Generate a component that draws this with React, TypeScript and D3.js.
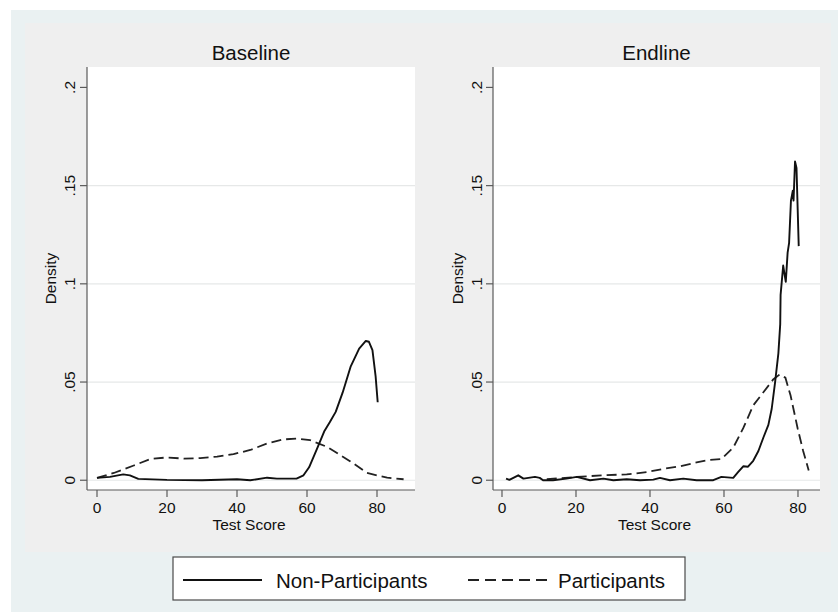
import React from "react";
import * as d3 from "d3";

type Pt = [number, number];

const panelTitles = ["Baseline", "Endline"];
const xTicks = [0, 20, 40, 60, 80];
const yTicks = [0, 0.05, 0.1, 0.15, 0.2];
const yTickLabels = ["0", ".05", ".1", ".15", ".2"];
const legendLabels = ["Non-Participants", "Participants"];

const baselineNonPart: Pt[] = [
  [0, 0.0012], [3.7, 0.0017], [7.5, 0.003], [9.4, 0.0025], [11.8, 0.0007],
  [20, 0.0002], [30, 0], [40, 0.0005], [43.8, 0], [48.6, 0.0013], [51.4, 0.0008],
  [57, 0.0008], [59, 0.0025], [60.6, 0.0066], [63, 0.0166], [64.9, 0.0248],
  [66.5, 0.0295], [68.2, 0.0348], [70.2, 0.0447], [72.5, 0.058], [74.9, 0.067],
  [76.8, 0.0709], [77.7, 0.0705], [78.7, 0.0662], [79.6, 0.053], [80.2, 0.0397],
];

const baselinePart: Pt[] = [
  [0, 0.0012], [4.8, 0.0037], [10.5, 0.0075], [15.2, 0.0108], [20, 0.0116],
  [24.8, 0.011], [29.5, 0.0113], [34.3, 0.012], [39, 0.0133], [43.8, 0.0154],
  [48.6, 0.0187], [53.3, 0.0208], [57.1, 0.0212], [60.9, 0.0204], [65.7, 0.017],
  [72.4, 0.0096], [77.1, 0.0038], [80, 0.0025], [82.9, 0.0013], [87.6, 0.0005],
];

const endlineNonPart: Pt[] = [
  [1.1, 0.0008], [2, 0.0002], [4.4, 0.0025], [5.8, 0.0008], [8.9, 0.0017],
  [10.2, 0.0012], [11.1, 0], [13.8, 0], [17.4, 0.0008], [20.2, 0.0017],
  [23.8, 0], [27.4, 0.0008], [30.1, 0], [33.7, 0.0005], [37.3, 0],
  [40.9, 0.0003], [42.7, 0.0012], [45.4, 0], [49, 0.0008], [52.6, 0],
  [57.1, 0], [59.3, 0.0017], [62.5, 0.0012], [63.8, 0.0041], [65.2, 0.0071],
  [66.5, 0.0069], [67.9, 0.0099], [69.3, 0.0149], [70.6, 0.0215], [72, 0.0282],
  [72.9, 0.0364], [73.8, 0.0497], [74.7, 0.0646], [75.2, 0.0795], [75.3, 0.0944],
  [76, 0.1093], [76.7, 0.101], [77.2, 0.1159], [77.6, 0.1209], [78.1, 0.1424],
  [78.6, 0.1474], [78.8, 0.1424], [79.2, 0.1623], [79.6, 0.159], [80.2, 0.1192],
];

const endlinePart: Pt[] = [
  [12.1, 0.0005], [20.2, 0.0017], [27.4, 0.0025], [33.7, 0.003], [39.1, 0.0041],
  [43.6, 0.0058], [48.1, 0.0071], [52.6, 0.0091], [56.2, 0.0104], [59.3, 0.0108],
  [62.5, 0.0166], [65.2, 0.0265], [67.9, 0.0381], [70.6, 0.0447], [73.3, 0.0513],
  [75, 0.0538], [76.6, 0.0522], [78, 0.0431], [79.9, 0.0265], [81.4, 0.0149],
  [82.9, 0.005],
];

const FONT = "'Liberation Sans', Arial, Helvetica, sans-serif";
const INK = "#111";

interface PanelProps {
  title: string;
  nonPart: Pt[];
  part: Pt[];
  left: number;
  right: number;
  xDomain: [number, number];
  yLabelX: number;
  densityX: number;
}

function Panel({ title, nonPart, part, left, right, xDomain, yLabelX, densityX }: PanelProps) {
  const top = 67;
  const bottom = 490;
  const x = d3.scaleLinear().domain(xDomain).range([left, right]);
  const y = d3.scaleLinear().domain([-0.00497, 0.2104]).range([bottom, top]);
  const line = d3
    .line<Pt>()
    .x((d) => x(d[0]))
    .y((d) => y(d[1]));
  const axisColor = "#5a5a5a";
  return (
    <g>
      <rect x={left} y={top} width={right - left} height={bottom - top} fill="#ffffff" />
      {yTicks.slice(0, 4).map((t) => (
        <line key={"g" + t} x1={left} x2={right} y1={y(t)} y2={y(t)} stroke="#e6e8e8" strokeWidth={1.2} />
      ))}
      <line x1={left} x2={left} y1={top} y2={bottom} stroke={axisColor} strokeWidth={1.2} />
      <line x1={left} x2={right} y1={bottom} y2={bottom} stroke={axisColor} strokeWidth={1.2} />
      {yTicks.map((t, i) => (
        <g key={"y" + t}>
          <line x1={left - 7} x2={left} y1={y(t)} y2={y(t)} stroke={axisColor} strokeWidth={1.2} />
          <text
            transform={`translate(${yLabelX},${y(t)}) rotate(-90)`}
            textAnchor="middle"
            fontFamily={FONT}
            fontSize={15.5}
            fill={INK}
          >
            {yTickLabels[i]}
          </text>
        </g>
      ))}
      {xTicks.map((t) => (
        <g key={"x" + t}>
          <line x1={x(t)} x2={x(t)} y1={bottom} y2={bottom + 7} stroke={axisColor} strokeWidth={1.2} />
          <text x={x(t)} y={513} textAnchor="middle" fontFamily={FONT} fontSize={15.5} fill={INK}>
            {t}
          </text>
        </g>
      ))}
      <text x={(left + right) / 2 - 2} y={530} textAnchor="middle" fontFamily={FONT} fontSize={15.5} fill={INK}>
        Test Score
      </text>
      <text
        transform={`translate(${densityX},${(top + bottom) / 2}) rotate(-90)`}
        textAnchor="middle"
        fontFamily={FONT}
        fontSize={15.5}
        fill={INK}
      >
        Density
      </text>
      <text x={(left + right) / 2} y={60} textAnchor="middle" fontFamily={FONT} fontSize={20.5} fill={INK}>
        {title}
      </text>
      <path d={line(part) || ""} fill="none" stroke="#222" strokeWidth={1.8} strokeDasharray="10,5" />
      <path d={line(nonPart) || ""} fill="none" stroke="#111" strokeWidth={1.9} strokeLinejoin="round" />
    </g>
  );
}

export default function App() {
  const W = 838;
  const H = 612;
  return (
    <svg
      width={W}
      height={H}
      style={{ position: "absolute", left: 0, top: 0, display: "block" }}
      xmlns="http://www.w3.org/2000/svg"
    >
      <rect x={0} y={0} width={W} height={H} fill="#ffffff" />
      <rect x={11} y={10} width={W - 11} height={H - 10} fill="#eaf1f2" />
      <rect x={25} y={23} width={806} height={529} fill="#efefef" />
      <Panel
        title={panelTitles[0]}
        nonPart={baselineNonPart}
        part={baselinePart}
        left={87}
        right={415}
        xDomain={[-2.857, 90.857]}
        yLabelX={75}
        densityX={56}
      />
      <Panel
        title={panelTitles[1]}
        nonPart={endlineNonPart}
        part={endlinePart}
        left={493}
        right={820}
        xDomain={[-2.43, 85.95]}
        yLabelX={481.5}
        densityX={463}
      />
      <g>
        <rect x={173} y={557} width={512} height={43} fill="#ffffff" stroke="#4a4a4a" strokeWidth={1.2} />
        <line x1={183} x2={262} y1={580} y2={580} stroke="#111" strokeWidth={1.9} />
        <text x={276} y={587.5} fontFamily={FONT} fontSize={20.5} fill={INK}>
          {legendLabels[0]}
        </text>
        <line x1={468} x2={548} y1={580} y2={580} stroke="#222" strokeWidth={1.8} strokeDasharray="11,6" />
        <text x={558} y={587.5} fontFamily={FONT} fontSize={20.5} fill={INK}>
          {legendLabels[1]}
        </text>
      </g>
    </svg>
  );
}
